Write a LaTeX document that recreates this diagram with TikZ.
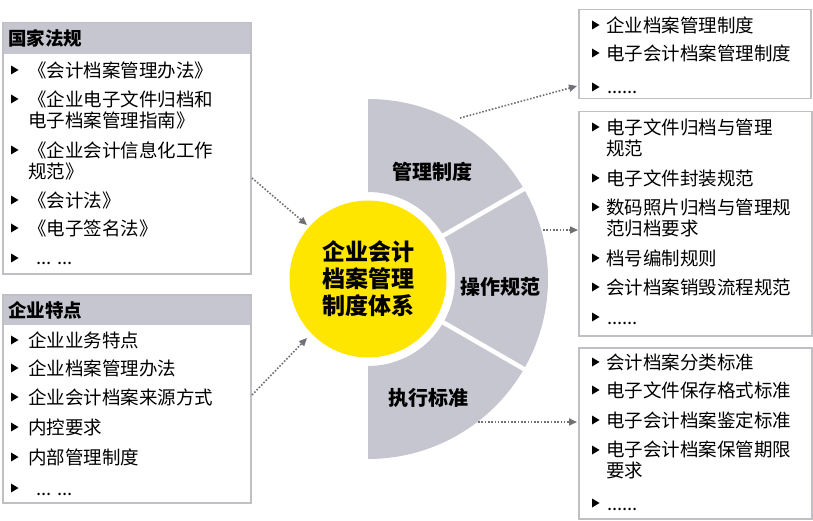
\documentclass[tikz,border=0pt]{standalone}
\usepackage{fontspec}
\setmainfont{Noto Sans CJK SC}
\usetikzlibrary{arrows.meta}
\definecolor{segray}{RGB}{198,198,208}
\definecolor{eyyellow}{RGB}{255,230,0}
\definecolor{bordergray}{RGB}{192,192,196}
\definecolor{arrgray}{RGB}{112,112,118}
\tikzset{
 box/.style={draw=bordergray, line width=1.5pt, anchor=north west, inner sep=0, rectangle},
 hdrband/.style={fill=segray},
 itemtext/.style={anchor=west, inner sep=0, align=left, font=\fontsize{18.5}{21}\selectfont},
 dotstext/.style={anchor=base west, inner sep=0, font=\fontsize{18.5}{21}\selectfont},
 hdrtext/.style={anchor=west, inner sep=0, font=\bfseries\fontsize{18.5}{21}\selectfont},
 seglabel/.style={font=\bfseries\fontsize{20}{24}\selectfont, inner sep=0},
 conn/.style={draw=arrgray, line width=1.6pt, dash pattern=on 1.6pt off 1.7pt, -{Triangle[length=8pt,width=7pt]}},
}
\newcommand\bul[2]{\fill (#1,#2-4.5) -- (#1+7.5,#2) -- (#1,#2+4.5) -- cycle;}
\begin{document}
\begin{tikzpicture}[x=1pt,y=-1pt]
\useasboundingbox (0,0) rectangle (813,521);

% ---------- left boxes ----------
\fill[hdrband] (2,22) rectangle (250,54);
\node[box, minimum width=248, minimum height=251] (lt) at (2,22) {};
\node[hdrtext] (lth) at (8,38) {国家法规};
\bul{11}{70}   \node[itemtext] (lt1) at (28,70) {《会计档案管理办法》};
\bul{11}{99}   \node[itemtext] (lt2) at (28,110) {《企业电子文件归档和\\电子档案管理指南》};
\bul{11}{150}  \node[itemtext] (lt3) at (28,161) {《企业会计信息化工作\\规范》};
\bul{11}{200}  \node[itemtext] (lt4) at (28,200) {《会计法》};
\bul{11}{228}  \node[itemtext] (lt5) at (28,228) {《电子签名法》};
\bul{11}{258}  \node[dotstext] (lt6) at (36,265) {... ...};

\fill[hdrband] (2,294) rectangle (250,325);
\node[box, minimum width=248, minimum height=208] (lb) at (2,294) {};
\node[hdrtext] (lbh) at (8,310) {企业特点};
\bul{11}{340}  \node[itemtext] (lb1) at (28,340) {企业业务特点};
\bul{11}{368}  \node[itemtext] (lb2) at (28,368) {企业档案管理办法};
\bul{11}{397}  \node[itemtext] (lb3) at (28,397) {企业会计档案来源方式};
\bul{11}{427}  \node[itemtext] (lb4) at (28,427) {内控要求};
\bul{11}{457}  \node[itemtext] (lb5) at (28,457) {内部管理制度};
\bul{11}{488}  \node[dotstext] (lb6) at (36,495) {... ...};

% ---------- centre ----------
\fill[segray] (368,99) arc[start angle=-90, end angle=90, radius=180]
  -- (368,366) arc[start angle=90, end angle=-90, radius=87] -- cycle;
\draw[white, line width=4.5pt] (368,279) ++(30:84) -- ++(30:100);
\draw[white, line width=4.5pt] (368,279) ++(-30:84) -- ++(-30:100);
\node[circle, fill=eyyellow, minimum size=157, inner sep=0, align=center,
      font=\bfseries\fontsize{23}{27}\selectfont] (core) at (368,279) {企业会计\\档案管理\\制度体系};
\node[seglabel] (s1) at (432,172) {管理制度};
\node[seglabel] (s2) at (500,287) {操作规范};
\node[seglabel] (s3) at (428,398) {执行标准};

% ---------- right boxes ----------
\node[box, minimum width=232, minimum height=89] (r1) at (578,9) {};
\bul{592}{25}  \node[itemtext] (r11) at (606,25) {企业档案管理制度};
\bul{592}{53}  \node[itemtext] (r12) at (606,53) {电子会计档案管理制度};
\bul{592}{87}  \node[dotstext] (r13) at (607,94) {......};

\node[box, minimum width=233, minimum height=224] (r2) at (578,111) {};
\bul{592}{127} \node[itemtext] (r21) at (606,137.5) {电子文件归档与管理\\规范};
\bul{592}{178} \node[itemtext] (r22) at (606,178) {电子文件封装规范};
\bul{592}{207} \node[itemtext] (r23) at (606,217.5) {数码照片归档与管理规\\范归档要求};
\bul{592}{258} \node[itemtext] (r24) at (606,258) {档号编制规则};
\bul{592}{287} \node[itemtext] (r25) at (606,287) {会计档案销毁流程规范};
\bul{592}{317} \node[dotstext] (r26) at (607,324) {......};

\node[box, minimum width=233, minimum height=171] (r3) at (578,347) {};
\bul{592}{362} \node[itemtext] (r31) at (606,362) {会计档案分类标准};
\bul{592}{390} \node[itemtext] (r32) at (606,390) {电子文件保存格式标准};
\bul{592}{420} \node[itemtext] (r33) at (606,420) {电子会计档案鉴定标准};
\bul{592}{450} \node[itemtext] (r34) at (606,460) {电子会计档案保管期限\\要求};
\bul{592}{503} \node[dotstext] (r35) at (607,510) {......};

% ---------- connectors ----------
\coordinate (a1s) at (252,178); \coordinate (a1e) at (307,225);
\coordinate (a2s) at (252,395); \coordinate (a2e) at (307,338);
\coordinate (a3s) at (460,118); \coordinate (a3e) at (577,86);
\coordinate (a4s) at (543,230); \coordinate (a4e) at (578,230);
\coordinate (a5s) at (478,422); \coordinate (a5e) at (577,422);
\draw[conn] (a1s) -- (a1e);
\draw[conn] (a2s) -- (a2e);
\draw[conn] (a3s) -- (a3e);
\draw[conn] (a4s) -- (a4e);
\draw[conn] (a5s) -- (a5e);
\end{tikzpicture}
\end{document}
